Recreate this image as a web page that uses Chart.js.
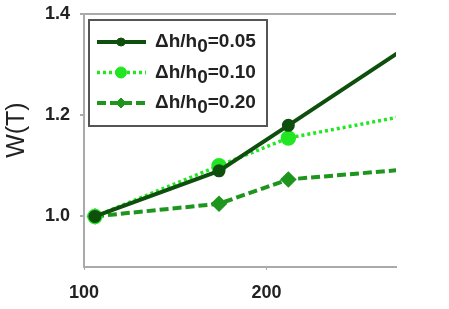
<!DOCTYPE html>
<html>
<head>
<meta charset="utf-8">
<script src="https://cdn.jsdelivr.net/npm/chart.js@4"></script>
<style>
  html, body { margin: 0; padding: 0; background: #fff; }
  #wrap { width: 449px; height: 309px; }
</style>
</head>
<body>
<div id="wrap"><canvas id="wChart" width="449" height="309"></canvas></div>
<script>
// data
const tempX = [106, 174, 212, 300];
const w005 = [1.00, 1.09, 1.18, 1.39];
const w010 = [1.00, 1.10, 1.155, 1.215];
const w020 = [1.00, 1.025, 1.073, 1.10];
const ratioLabels = ['0.05', '0.10', '0.20'];
const xTicks = [100, 200];
const yTicks = [1.0, 1.2, 1.4];

function toPoints(ys) {
  return tempX.map(function (x, i) { return { x: x, y: ys[i] }; });
}

// legend drawn by hand, so the "0" can sit as a subscript
const boxLegend = {
  id: 'boxLegend',
  afterDraw: function (chart) {
    const ctx = chart.ctx;
    const bx = 89, by = 20, bw = 178, bh = 106;
    ctx.save();
    ctx.fillStyle = '#fff';
    ctx.fillRect(bx, by, bw, bh);
    ctx.strokeStyle = '#555';
    ctx.lineWidth = 2;
    ctx.strokeRect(bx, by, bw, bh);

    chart.data.datasets.forEach(function (ds, i) {
      const y = 42 + i * 30.5;
      ctx.save();
      ctx.strokeStyle = ds.borderColor;
      ctx.lineWidth = ds.borderWidth;
      ctx.setLineDash(ds.borderDash || []);
      ctx.beginPath();
      ctx.moveTo(97, y);
      ctx.lineTo(146, y);
      ctx.stroke();
      ctx.restore();

      ctx.fillStyle = ds.pointBackgroundColor;
      ctx.strokeStyle = ds.pointBorderColor;
      ctx.lineWidth = 1;
      Chart.helpers.drawPoint(ctx, {
        pointStyle: ds.pointStyle,
        radius: ds.pointRadius - 0.5,
        borderWidth: 1
      }, 121, y);

      ctx.fillStyle = '#222';
      ctx.textBaseline = 'middle';
      ctx.font = 'bold 19px "Liberation Sans", Arial, sans-serif';
      let x = 155;
      ctx.fillText('\u0394h/h', x, y);
      x += ctx.measureText('\u0394h/h').width;
      ctx.fillText('0', x, y + 5);
      x += ctx.measureText('0').width;
      ctx.fillText('=' + ratioLabels[i], x, y);
    });
    ctx.restore();
  }
};

const ctx = document.getElementById('wChart').getContext('2d');

new Chart(ctx, {
  type: 'line',
  data: {
    datasets: [
      {
        label: ratioLabels[0],
        data: toPoints(w005),
        borderColor: '#0e4f0e',
        borderWidth: 4,
        pointStyle: 'circle',
        pointRadius: 4.5,
        pointBackgroundColor: '#0e4f0e',
        pointBorderColor: '#0e4f0e'
      },
      {
        label: ratioLabels[1],
        data: toPoints(w010),
        borderColor: '#22e622',
        borderWidth: 3.5,
        borderDash: [3, 3],
        pointStyle: 'circle',
        pointRadius: 6,
        pointBackgroundColor: '#22e622',
        pointBorderColor: '#22e622'
      },
      {
        label: ratioLabels[2],
        data: toPoints(w020),
        borderColor: '#1e961e',
        borderWidth: 4,
        borderDash: [9, 4],
        pointStyle: 'rectRot',
        pointRadius: 5.5,
        pointBackgroundColor: '#1e961e',
        pointBorderColor: '#1e961e'
      }
    ]
  },
  options: {
    responsive: false,
    animation: false,
    layout: { padding: { top: 14, right: 53, left: 0, bottom: 0 } },
    plugins: {
      legend: { display: false },
      tooltip: { enabled: false }
    },
    scales: {
      x: {
        type: 'linear',
        min: 100,
        max: 271,
        afterBuildTicks: function (scale) {
          scale.ticks = xTicks.map(function (v) { return { value: v }; });
        },
        afterFit: function (scale) { scale.height = 42; },
        border: { color: '#aaa', width: 2 },
        grid: { drawOnChartArea: false, tickLength: 3, tickColor: '#aaa', color: '#aaa' },
        ticks: {
          padding: 12,
          color: '#222',
          font: { family: '"Liberation Sans", Arial, sans-serif', size: 18, weight: 'bold' }
        }
      },
      y: {
        min: 0.9,
        max: 1.4,
        afterBuildTicks: function (scale) {
          scale.ticks = yTicks.map(function (v) { return { value: v }; });
        },
        afterFit: function (scale) {
          scale.width = 84;
          // let the plot top sit right at the padding
          scale.paddingTop = 0;
          scale.paddingBottom = 0;
        },
        border: { color: '#aaa', width: 2 },
        grid: {
          tickLength: 4,
          tickColor: '#aaa',
          lineWidth: 2,
          color: function (c) { return c.tick && c.tick.value === 1.4 ? '#aaa' : 'rgba(0,0,0,0)'; }
        },
        ticks: {
          padding: 10,
          color: '#222',
          font: { family: '"Liberation Sans", Arial, sans-serif', size: 18, weight: 'bold' },
          callback: function (v) { return v.toFixed(1); }
        },
        title: {
          display: true,
          text: '   W(T)',
          color: '#222',
          padding: { top: 2, bottom: 0 },
          font: { family: '"Liberation Sans", Arial, sans-serif', size: 25 }
        }
      }
    }
  },
  plugins: [boxLegend]
});
</script>
</body>
</html>
